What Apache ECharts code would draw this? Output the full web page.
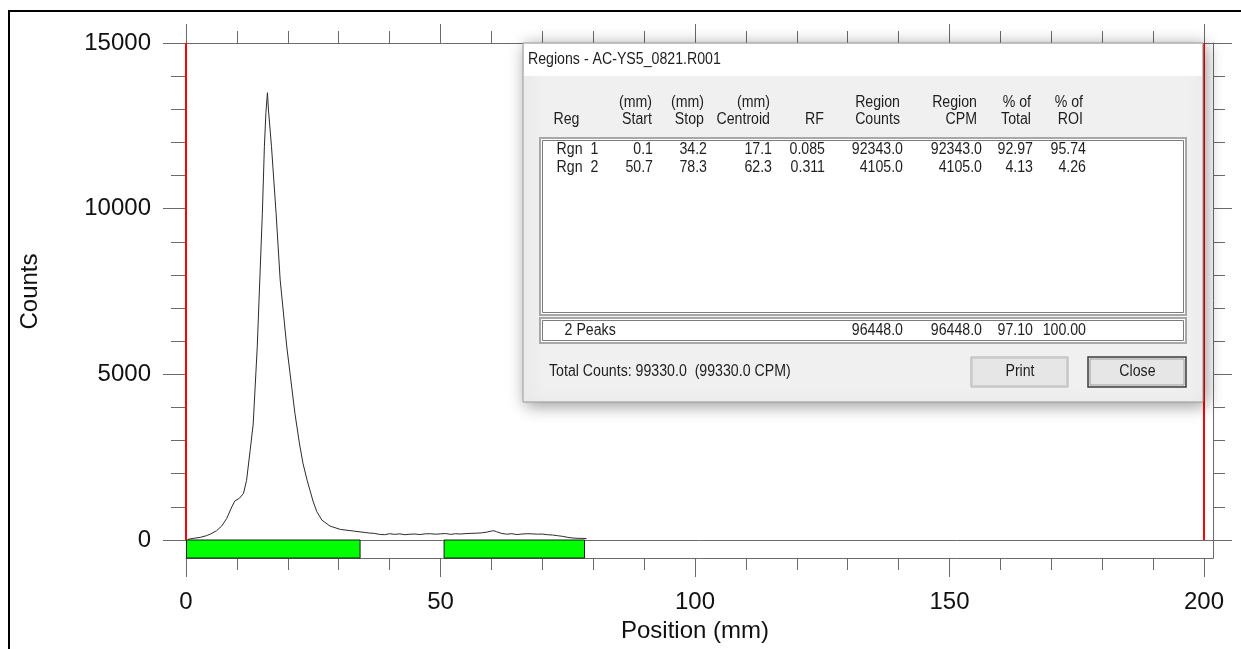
<!DOCTYPE html>
<html>
<head>
<meta charset="utf-8">
<script src="https://cdn.jsdelivr.net/npm/echarts@6/dist/echarts.min.js"></script>
<style>
html,body{margin:0;padding:0;background:#fff;}
#chart{width:1241px;height:649px;}
</style>
</head>
<body>
<div id="chart"></div>
<script>
// ---- data ----
const positions = [0.4, 1.5, 2.8, 4.0, 4.8, 6.0, 7.0, 8.0, 9.0, 9.6, 10.5, 11.3, 11.9, 12.6, 13.2, 14.0, 14.5, 15.0, 15.4, 15.7, 16.0, 16.2, 16.8, 17.7, 18.5, 19.8, 21.4, 22.3, 23.0, 23.8, 25.0, 25.7, 26.7, 28.3, 30.3, 32.9, 35, 36, 37, 38, 39, 40, 41, 42, 43, 44, 45, 46, 47, 48, 49, 50, 51, 52, 53, 54, 55, 56, 57, 58, 59, 60, 60.5, 61, 62, 63, 64, 65, 66, 67, 68, 69, 70, 71, 72, 73, 74, 75, 76, 77, 78, 78.7];
const counts = [20, 50, 80, 130, 180, 280, 420, 650, 1000, 1180, 1260, 1410, 1800, 2700, 3500, 5830, 7850, 9860, 11870, 12900, 13500, 12980, 11870, 9860, 7850, 5830, 3820, 2900, 2300, 1800, 1150, 855, 600, 420, 320, 270, 230, 210, 200, 170, 160, 190, 170, 185, 160, 175, 180, 165, 185, 190, 175, 185, 195, 170, 190, 180, 195, 200, 205, 215, 235, 270, 280, 250, 200, 175, 190, 165, 180, 190, 185, 175, 180, 160, 150, 130, 110, 80, 60, 50, 50, 40];

const xTickLabels = [0, 50, 100, 150, 200];
const yTickLabels = [0, 5000, 10000, 15000];

const regionNames = ['Rgn  1', 'Rgn  2'];
const regionStart = [0.1, 50.7];
const regionStop = [34.2, 78.3];
const regionCentroid = [17.1, 62.3];
const regionRF = ['0.085', '0.311'];
const regionCounts = [92343.0, 4105.0];
const regionCPM = [92343.0, 4105.0];
const pctTotal = [92.97, 4.13];
const pctROI = [95.74, 4.26];

const headerTop = ['', '(mm)', '(mm)', '(mm)', '', 'Region', 'Region', '% of', '% of'];
const headerBottom = ['Reg', 'Start', 'Stop', 'Centroid', 'RF', 'Counts', 'CPM', 'Total', 'ROI'];

const peaksLabel = '2 Peaks';
const peaksCounts = 96448.0;
const peaksCPM = 96448.0;
const peaksPctTotal = 97.10;
const peaksPctROI = 100.00;
const totalCounts = 99330.0;
const dialogTitle = 'Regions - AC-YS5_0821.R001';

// ---- layout ----
const X0 = 186, X200 = 1204, XR = 1213, YTOP = 43, Y0 = 540, YB = 558;
const stripMax = 200 * (XR - X0) / (X200 - X0);

const FONT = 'Liberation Sans';
const AX = '#6a6a6a';
const chart = echarts.init(document.getElementById('chart'));

const lineData = positions.map((p, i) => [p, counts[i]]);
const regionData = regionStart.map((s, i) => [s, regionStop[i]]);

const hidden = {show: false};
function frameAxis(grid, pos) {
  return {type: 'value', gridIndex: grid, position: pos, min: 0, max: 1,
    axisLine: {show: true, onZero: false, lineStyle: {color: AX, width: 1}},
    axisTick: hidden, axisLabel: hidden, splitLine: hidden};
}

// dialog graphic
const DLG = {x: 523, y: 43, w: 680, h: 359};
const TXT = '#1e1e1e';
function txt(x, y, s, align) {
  return {type: 'text', x: x, y: y, scaleX: 0.885, z: 110, silent: true,
    style: {text: s, fill: TXT, font: '16px "' + FONT + '"',
      textAlign: align || 'right', align: align || 'right',
      textVerticalAlign: 'middle', verticalAlign: 'middle'}};
}
function rect(x, y, w, h, fill, stroke, lw, extra) {
  return Object.assign({type: 'rect', z: 105, silent: true,
    shape: {x: x, y: y, width: w, height: h},
    style: {fill: fill, stroke: stroke || null, lineWidth: lw || 0}}, extra || {});
}
const hdrRight = [null, 652, 704, 770, 824, 900, 977, 1031, 1083];
const valRight = [null, 653, 707, 772, 825, 903, 982, 1033, 1086];
const g = [];
g.push({type: 'rect', z: 1, silent: true, shape: {x: 9, y: 11, width: 1300, height: 800},
  style: {fill: null, stroke: '#000', lineWidth: 2}});
g.push(rect(DLG.x, DLG.y, DLG.w, DLG.h, '#f0f0f0', '#9a9a9a', 1,
  {style: {fill: '#f0f0f0', stroke: '#9a9a9a', lineWidth: 1, shadowBlur: 16, shadowColor: 'rgba(0,0,0,0.4)', shadowOffsetX: 3, shadowOffsetY: 3}}));
g.push(rect(DLG.x + 1, DLG.y + 1, DLG.w - 2, 32, '#ffffff'));
g.push(txt(528, 59.5, dialogTitle, 'left'));
// headers
g.push(txt(553.5, 119.3, headerBottom[0], 'left'));
for (let c = 1; c < headerBottom.length; c++) {
  if (headerTop[c]) g.push(txt(hdrRight[c], 102.7, headerTop[c], 'right'));
  g.push(txt(hdrRight[c], 119.3, headerBottom[c], 'right'));
}
// list box
g.push(rect(540, 138, 646, 177, '#ffffff', '#a8a8a8', 2));
g.push(rect(542.5, 140.5, 641, 172, null, '#7c7c7c', 1));
const rowY = [150, 167.3];
for (let r = 0; r < regionNames.length; r++) {
  const y = rowY[r];
  g.push(txt(556.6, y, regionNames[r], 'left'));
  g.push(txt(valRight[1], y, regionStart[r].toFixed(1)));
  g.push(txt(valRight[2], y, regionStop[r].toFixed(1)));
  g.push(txt(valRight[3], y, regionCentroid[r].toFixed(1)));
  g.push(txt(valRight[4], y, regionRF[r]));
  g.push(txt(valRight[5], y, regionCounts[r].toFixed(1)));
  g.push(txt(valRight[6], y, regionCPM[r].toFixed(1)));
  g.push(txt(valRight[7], y, pctTotal[r].toFixed(2)));
  g.push(txt(valRight[8], y, pctROI[r].toFixed(2)));
}
// summary box
g.push(rect(540, 318, 646, 25, '#ffffff', '#a8a8a8', 2));
g.push(rect(542.5, 320.5, 641, 20, null, '#7c7c7c', 1));
g.push(txt(564.6, 331, peaksLabel, 'left'));
g.push(txt(valRight[5], 331, peaksCounts.toFixed(1)));
g.push(txt(valRight[6], 331, peaksCPM.toFixed(1)));
g.push(txt(valRight[7], 331, peaksPctTotal.toFixed(2)));
g.push(txt(valRight[8], 331, peaksPctROI.toFixed(2)));
g.push(txt(549, 371.7, 'Total Counts: ' + totalCounts.toFixed(1) + '  (' + totalCounts.toFixed(1) + ' CPM)', 'left'));
// buttons
g.push(rect(971, 357, 97, 30, '#e6e6e6', '#adadad', 1));
g.push(rect(972.5, 358.5, 94, 27, null, '#d0d0d0', 1));
g.push(txt(1020, 372, 'Print', 'center'));
g.push(rect(1088, 357, 98, 30, '#e6e6e6', '#3c3c3c', 1.5));
g.push(rect(1090, 359, 94, 26, null, '#a0a0a0', 1));
g.push(txt(1137.4, 372, 'Close', 'center'));

const labelStyle = {fontFamily: FONT, fontSize: 24, color: '#111'};

const option = {
  animation: false,
  backgroundColor: '#ffffff',
  grid: [
    {left: X0, top: YTOP, width: XR - X0, height: YB - YTOP, containLabel: false},
    {left: X0, top: YTOP, width: X200 - X0, height: Y0 - YTOP, containLabel: false},
    {left: X0, top: Y0, width: XR - X0, height: YB - Y0, containLabel: false}
  ],
  xAxis: [
    frameAxis(0, 'bottom'),
    frameAxis(0, 'top'),
    {type: 'value', gridIndex: 1, position: 'top', min: 0, max: 200, interval: 50,
      axisLine: {show: false, onZero: false},
      axisTick: {show: true, length: 19, lineStyle: {color: AX}},
      minorTick: {show: true, splitNumber: 5, length: 12, lineStyle: {color: AX}},
      axisLabel: hidden, splitLine: hidden, minorSplitLine: hidden},
    {type: 'value', gridIndex: 1, position: 'bottom', offset: YB - Y0, min: 0, max: 200, interval: 50,
      axisLine: {show: false, onZero: false},
      axisTick: {show: true, length: 19, lineStyle: {color: AX}},
      minorTick: {show: true, splitNumber: 5, length: 12, lineStyle: {color: AX}},
      axisLabel: Object.assign({show: true, margin: 32,
        formatter: v => (xTickLabels.indexOf(v) >= 0 ? String(v) : '')}, labelStyle),
      name: 'Position (mm)', nameLocation: 'middle', nameGap: 60,
      nameTextStyle: labelStyle,
      splitLine: hidden, minorSplitLine: hidden},
    {type: 'value', gridIndex: 2, position: 'top', min: 0, max: stripMax,
      axisLine: {show: true, onZero: false, lineStyle: {color: AX, width: 1}},
      axisTick: hidden, axisLabel: hidden, splitLine: hidden}
  ],
  yAxis: [
    frameAxis(0, 'left'),
    frameAxis(0, 'right'),
    {type: 'value', gridIndex: 1, position: 'left', min: 0, max: 15000, interval: 5000,
      axisLine: {show: false, onZero: false},
      axisTick: {show: true, length: 23, lineStyle: {color: AX}},
      minorTick: {show: true, splitNumber: 5, length: 15, lineStyle: {color: AX}},
      axisLabel: Object.assign({show: true, margin: 35,
        formatter: v => (yTickLabels.indexOf(v) >= 0 ? String(v) : '')}, labelStyle),
      name: 'Counts', nameLocation: 'middle', nameGap: 144, nameTextStyle: labelStyle,
      splitLine: hidden, minorSplitLine: hidden},
    {type: 'value', gridIndex: 1, position: 'right', offset: XR - X200, min: 0, max: 15000, interval: 5000,
      axisLine: {show: false, onZero: false},
      axisTick: {show: true, length: 19, lineStyle: {color: AX}},
      minorTick: {show: true, splitNumber: 5, length: 12, lineStyle: {color: AX}},
      axisLabel: hidden, splitLine: hidden, minorSplitLine: hidden},
    {type: 'value', gridIndex: 2, min: 0, max: 1, show: false}
  ],
  series: [
    {type: 'line', xAxisIndex: 3, yAxisIndex: 2, data: lineData, showSymbol: false, symbol: 'none',
      lineStyle: {color: '#2b2b2b', width: 1}, silent: true, z: 3,
      markLine: {silent: true, symbol: ['none', 'none'], label: {show: false},
        lineStyle: {color: '#ff0000', width: 2, type: 'solid'},
        data: [{xAxis: 0}, {xAxis: 200}]}},
    {type: 'custom', xAxisIndex: 4, yAxisIndex: 4, data: regionData, encode: {x: [0, 1]}, silent: true, z: 4,
      renderItem: function (params, api) {
        const p0 = api.coord([api.value(0), 1]);
        const p1 = api.coord([api.value(1), 0]);
        return {type: 'rect', shape: {x: p0[0], y: p0[1], width: p1[0] - p0[0], height: p1[1] - p0[1]},
          style: {fill: '#00ff00', stroke: '#1a1a1a', lineWidth: 1}};
      }}
  ],
  graphic: g
};
chart.setOption(option);
</script>
</body>
</html>
